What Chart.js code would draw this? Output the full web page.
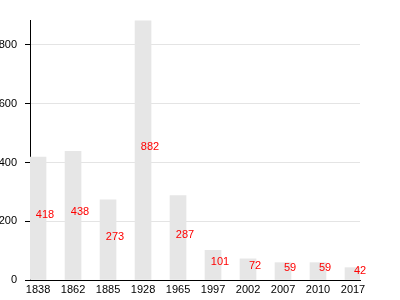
<!DOCTYPE html>
<html>
<head>
<meta charset="utf-8">
<script src="https://cdn.jsdelivr.net/npm/chart.js@4/dist/chart.umd.min.js"></script>
<style>
  html, body { margin: 0; padding: 0; background: #fff; }
  #wrap { width: 400px; height: 300px; }
</style>
</head>
<body>
<div id="wrap"><canvas id="chartPop"></canvas></div>
<script>
const years = ['1838', '1862', '1885', '1928', '1965', '1997', '2002', '2007', '2010', '2017'];
const population = [418, 438, 273, 882, 287, 101, 72, 59, 59, 42];
const yTicks = [0, 200, 400, 600, 800];

const points = population.map((v, i) => ({ x: i, y: v }));

// red value labels drawn half way up each bar, a bit to the right
const valueLabels = {
  id: 'valueLabels',
  afterDatasetsDraw(chart) {
    const ctx = chart.ctx;
    const meta = chart.getDatasetMeta(0);
    ctx.save();
    ctx.font = '11px "Liberation Sans", Arial, sans-serif';
    ctx.fillStyle = '#ff0000';
    ctx.textAlign = 'center';
    ctx.textBaseline = 'middle';
    meta.data.forEach((bar, i) => {
      const mid = (bar.y + bar.base) / 2 - 3;
      ctx.fillText(String(population[i]), bar.x + 7, mid);
    });
    ctx.restore();
  }
};

Chart.defaults.font.family = '"Liberation Sans", Arial, sans-serif';
Chart.defaults.font.size = 11;
Chart.defaults.color = '#000';

new Chart(document.getElementById('chartPop'), {
  type: 'bar',
  data: {
    datasets: [{
      data: points,
      backgroundColor: '#e6e6e6',
      borderWidth: 0,
      barThickness: 16
    }]
  },
  options: {
    responsive: true,
    maintainAspectRatio: false,
    animation: false,
    layout: { padding: { top: 20, right: 40, left: 0, bottom: 0 } },
    plugins: {
      legend: { display: false },
      tooltip: { enabled: false }
    },
    scales: {
      x: {
        type: 'linear',
        offset: false,
        min: -0.23,
        max: 9.2,
        grid: { display: false, drawTicks: false, offset: false },
        border: { color: '#000', width: 1 },
        afterBuildTicks: (axis) => {
          axis.ticks = years.map((y, i) => ({ value: i }));
        },
        ticks: {
          padding: 3,
          maxRotation: 0,
          autoSkip: false,
          callback: (v) => years[v]
        },
        afterFit: (s) => { s.height = 20; }
      },
      y: {
        min: 0,
        max: 885,
        border: { color: '#000', width: 1 },
        grid: { color: '#e4e4e4', tickColor: '#000', tickLength: 5 },
        afterBuildTicks: (axis) => {
          axis.ticks = yTicks.map((v) => ({ value: v }));
        },
        ticks: { padding: 8 },
        afterFit: (s) => { s.width = 30; }
      }
    }
  },
  plugins: [valueLabels]
});
</script>
</body>
</html>
